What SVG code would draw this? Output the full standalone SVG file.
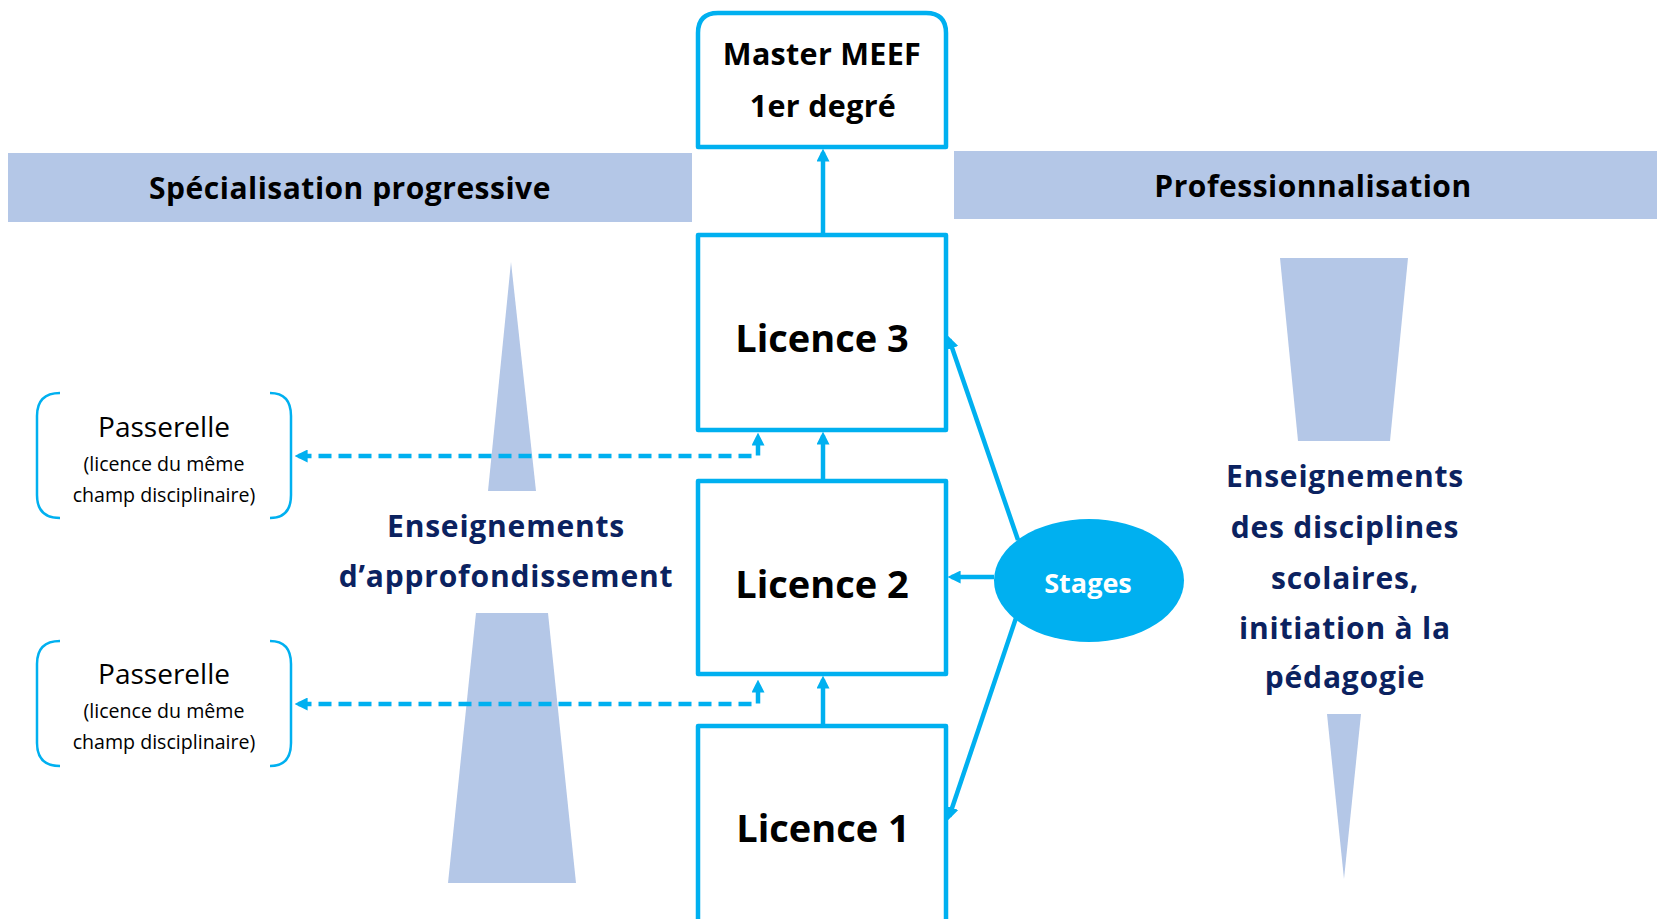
<svg xmlns="http://www.w3.org/2000/svg" width="1657" height="919" viewBox="0 0 1657 919">
<style>
.band{fill:#b4c7e7}
.box{fill:#fff;stroke:#00b0f0;stroke-width:4.5;stroke-linejoin:round}
.hdr{font-family:"Open Sans","Noto Sans",sans-serif;font-weight:700;font-size:30px;letter-spacing:0.5px;fill:#000;text-anchor:middle}
.mst{font-family:"Open Sans","Noto Sans",sans-serif;font-weight:700;font-size:30.5px;letter-spacing:0.3px;fill:#000;text-anchor:middle}
.lic{font-family:"Open Sans","Noto Sans",sans-serif;font-weight:700;font-size:38px;fill:#000;text-anchor:middle}
.nav{font-family:"Open Sans","Noto Sans",sans-serif;font-weight:700;font-size:30px;letter-spacing:0.8px;fill:#0b2260;text-anchor:middle}
.pas{font-family:"Open Sans","Noto Sans",sans-serif;fill:#000;text-anchor:middle}
.brk{fill:none;stroke:#00b0f0;stroke-width:2.5}
.con{fill:none;stroke:#00b0f0;stroke-width:4.5}
.dash{fill:none;stroke:#00b0f0;stroke-width:4.5;stroke-dasharray:13 7}
</style>
<defs>
<marker id="ah" viewBox="0 0 10 10" refX="7" refY="5" markerWidth="13" markerHeight="13" markerUnits="userSpaceOnUse" orient="auto-start-reverse">
<path d="M0,0 L10,5 L0,10 z" fill="#00b0f0"/>
</marker>
</defs>

<g id="bands">
<rect class="band" x="8" y="153" width="684" height="69"/>
<rect class="band" x="954" y="151" width="703" height="68"/>
<polygon class="band" points="511,262 536,491 488,491"/>
<polygon class="band" points="476,613 548,613 576,883 448,883"/>
<polygon class="band" points="1280,258 1408,258 1390,441 1298,441"/>
<polygon class="band" points="1327,714 1361,714 1344,879"/>
</g>

<g id="header-left"><text class="hdr" x="350" y="199">Spécialisation progressive</text></g>
<g id="header-right"><text class="hdr" x="1313" y="197">Professionnalisation</text></g>

<g id="connectors">
<path class="con" d="M823,235 V152.5" marker-end="url(#ah)"/>
<path class="con" d="M823,481 V435.5" marker-end="url(#ah)"/>
<path class="con" d="M823,726 V679.5" marker-end="url(#ah)"/>
<path class="dash" d="M298.5,456 H758 V436.5" marker-start="url(#ah)" marker-end="url(#ah)"/>
<path class="dash" d="M298.5,704 H758 V683.5" marker-start="url(#ah)" marker-end="url(#ah)"/>
<path class="con" d="M1018,540 L949.2,339.5" marker-end="url(#ah)"/>
<path class="con" d="M994,577 H951.5" marker-end="url(#ah)"/>
<path class="con" d="M1016,618 L949.2,816.5" marker-end="url(#ah)"/>
</g>

<g id="master">
<path class="box" d="M698,147 V33 Q698,13 718,13 H926 Q946,13 946,33 V147 Z"/>
<text class="mst" x="822" y="65">Master MEEF</text>
<text class="mst" x="823" y="117">1er degré</text>
</g>

<g id="licence3">
<rect class="box" x="698" y="235" width="248" height="195"/>
<text class="lic" x="822" y="352">Licence 3</text>
</g>
<g id="licence2">
<rect class="box" x="698" y="481" width="248" height="193"/>
<text class="lic" x="822" y="598">Licence 2</text>
</g>
<g id="licence1">
<rect class="box" x="698" y="726" width="248" height="210"/>
<text class="lic" x="823" y="842">Licence 1</text>
</g>

<g id="passerelle1">
<path class="brk" d="M60,393 Q37,393 37,416 V495 Q37,518 60,518"/>
<path class="brk" d="M270,393 Q291,393 291,416 V495 Q291,518 270,518"/>
<text class="pas" x="164" y="437" font-size="28">Passerelle</text>
<text class="pas" x="164" y="471" font-size="19.6">(licence du même</text>
<text class="pas" x="164" y="502" font-size="19.6">champ disciplinaire)</text>
</g>
<g id="passerelle2">
<path class="brk" d="M60,641 Q37,641 37,664 V743 Q37,766 60,766"/>
<path class="brk" d="M270,641 Q291,641 291,664 V743 Q291,766 270,766"/>
<text class="pas" x="164" y="684" font-size="28">Passerelle</text>
<text class="pas" x="164" y="718" font-size="19.6">(licence du même</text>
<text class="pas" x="164" y="749" font-size="19.6">champ disciplinaire)</text>
</g>

<g id="approfondissement">
<text class="nav" x="506" y="537">Enseignements</text>
<text class="nav" x="506" y="587">d’approfondissement</text>
</g>

<g id="disciplines">
<text class="nav" x="1345" y="487">Enseignements</text>
<text class="nav" x="1345" y="538">des disciplines</text>
<text class="nav" x="1345" y="589">scolaires,</text>
<text class="nav" x="1345" y="639">initiation à la</text>
<text class="nav" x="1345" y="688">pédagogie</text>
</g>

<g id="stages">
<ellipse cx="1089" cy="580.5" rx="95" ry="61.5" fill="#00b0f0"/>
<text x="1088" y="593" font-family="Open Sans, Noto Sans, sans-serif" font-weight="700" font-size="27" fill="#fff" text-anchor="middle">Stages</text>
</g>
</svg>
